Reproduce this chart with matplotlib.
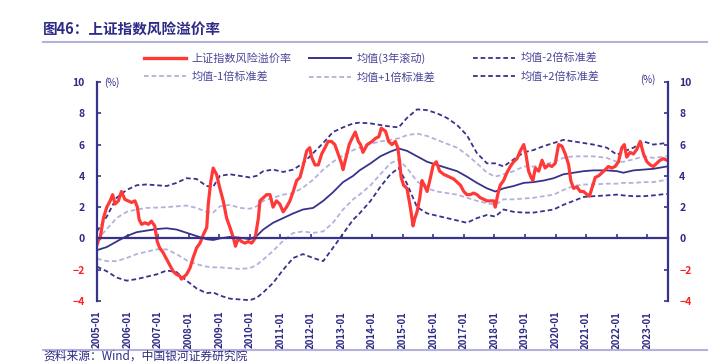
import matplotlib
matplotlib.use("Agg")
import matplotlib.pyplot as plt
from matplotlib.lines import Line2D

plt.rcParams['font.family'] = ['Noto Sans CJK SC', 'DejaVu Sans']

# === 数据（从图中读取，时间用小数年表示）===
red_dates = [2005.00, 2005.05, 2005.10, 2005.21, 2005.32, 2005.43, 2005.51, 2005.59, 2005.70, 2005.80,
             2005.91, 2006.02, 2006.13, 2006.24, 2006.32, 2006.38, 2006.46, 2006.57, 2006.68, 2006.78,
             2006.89, 2006.97, 2007.05, 2007.16, 2007.27, 2007.38, 2007.49, 2007.60, 2007.71, 2007.76,
             2007.82, 2007.93, 2008.04, 2008.15, 2008.26, 2008.37, 2008.48, 2008.59, 2008.64, 2008.72,
             2008.80, 2008.91, 2009.02, 2009.13, 2009.24, 2009.35, 2009.46, 2009.53, 2009.62, 2009.73,
             2009.84, 2009.95, 2010.06, 2010.17, 2010.28, 2010.33, 2010.44, 2010.55, 2010.66, 2010.76,
             2010.87, 2010.98, 2011.09, 2011.20, 2011.31, 2011.42, 2011.53, 2011.64, 2011.75, 2011.86,
             2011.96, 2012.02, 2012.13, 2012.24, 2012.35, 2012.46, 2012.56, 2012.67, 2012.78, 2012.89,
             2013.00, 2013.05, 2013.15, 2013.25, 2013.37, 2013.45, 2013.55, 2013.62, 2013.70, 2013.84,
             2014.00, 2014.11, 2014.22, 2014.30, 2014.44, 2014.54, 2014.65, 2014.76, 2014.84, 2014.90,
             2014.95, 2015.03, 2015.14, 2015.25, 2015.34, 2015.40, 2015.47, 2015.56, 2015.63, 2015.71,
             2015.80, 2015.91, 2016.00, 2016.10, 2016.21, 2016.34, 2016.45, 2016.56, 2016.67, 2016.78,
             2016.89, 2017.00, 2017.10, 2017.21, 2017.32, 2017.43, 2017.54, 2017.65, 2017.76, 2017.87,
             2017.98, 2018.03, 2018.11, 2018.19, 2018.30, 2018.41, 2018.52, 2018.63, 2018.74, 2018.85,
             2018.96, 2019.03, 2019.12, 2019.20, 2019.26, 2019.34, 2019.45, 2019.56, 2019.66, 2019.77,
             2019.88, 2019.99, 2020.10, 2020.21, 2020.32, 2020.43, 2020.50, 2020.59, 2020.70, 2020.81,
             2020.92, 2021.03, 2021.11, 2021.19, 2021.30, 2021.41, 2021.52, 2021.63, 2021.73, 2021.84,
             2021.95, 2022.06, 2022.17, 2022.25, 2022.33, 2022.44, 2022.55, 2022.66, 2022.77, 2022.88,
             2022.99, 2023.10, 2023.20, 2023.31, 2023.42, 2023.53, 2023.64]
red_values = [-0.4, -0.1, 0.0, 1.3, 2.0, 2.4, 2.8, 2.2, 2.4, 3.0,
              2.5, 2.4, 2.3, 2.4, 2.0, 1.2, 0.9, 1.0, 0.9, 1.1,
              0.8, -0.2, -0.6, -0.9, -1.3, -1.7, -2.1, -2.3, -2.4, -2.6,
              -2.5, -2.3, -1.9, -1.2, -0.6, -0.3, 0.25, 0.7, 2.2, 3.6,
              4.5, 4.1, 3.2, 2.4, 1.3, 0.7, 0.05, -0.5, 0.0, -0.2,
              -0.3, -0.2, -0.3, 0.0, 1.3, 2.4, 2.6, 2.8, 2.8, 2.0,
              2.4, 2.2, 1.7, 2.0, 2.4, 3.0, 3.7, 3.9, 4.7, 5.6,
              5.8, 5.2, 4.7, 4.7, 5.4, 5.8, 6.2, 6.2, 6.0, 5.4,
              4.8, 4.4, 5.2, 6.0, 6.5, 6.8, 6.2, 6.0, 5.5, 6.0,
              6.2, 6.4, 6.5, 7.05, 6.85, 6.2, 6.0, 6.2, 5.8, 4.9,
              3.9, 3.4, 3.2, 2.0, 0.8, 1.3, 1.7, 2.6, 3.7, 3.4,
              3.0, 3.9, 4.7, 4.9, 4.3, 4.1, 4.0, 3.9, 3.8, 3.6,
              3.4, 3.0, 2.8, 2.8, 2.9, 2.8, 2.6, 2.5, 2.4, 2.4,
              2.4, 2.0, 2.8, 3.4, 3.7, 4.2, 4.6, 4.9, 5.1, 5.6,
              6.0, 5.4, 4.3, 3.9, 3.7, 4.5, 4.3, 5.0, 4.5, 4.7,
              4.6, 4.8, 6.0, 5.9, 5.4, 4.7, 3.7, 3.2, 3.3, 3.0,
              3.0, 2.8, 2.7, 3.2, 3.9, 4.0, 4.2, 4.4, 4.6, 4.5,
              4.6, 4.9, 5.8, 6.0, 5.2, 5.5, 5.4, 5.7, 6.2, 5.4,
              4.9, 4.7, 4.6, 4.8, 5.0, 5.1, 5.0]

band_dates = [2005.00, 2005.32, 2005.64, 2005.97, 2006.30, 2006.62, 2006.95, 2007.28, 2007.60, 2007.93,
              2008.26, 2008.58, 2008.80, 2009.02, 2009.35, 2009.67, 2010.00, 2010.22, 2010.44, 2010.76,
              2011.09, 2011.42, 2011.74, 2012.07, 2012.40, 2012.72, 2013.05, 2013.38, 2013.59, 2013.95,
              2014.27, 2014.60, 2014.87, 2015.14, 2015.47, 2015.80, 2016.12, 2016.45, 2016.78, 2017.10,
              2017.43, 2017.76, 2018.03, 2018.30, 2018.63, 2018.96, 2019.28, 2019.61, 2019.94, 2020.26,
              2020.59, 2020.92, 2021.24, 2021.68, 2022.01, 2022.22, 2022.55, 2022.88, 2023.20, 2023.64]
mean_3y = [-0.75, -0.55, -0.2, 0.15, 0.4, 0.5, 0.6, 0.65, 0.57, 0.36,
           0.15, -0.05, -0.1, 0.0, 0.1, 0.05, -0.05, 0.15, 0.57, 1.0,
           1.3, 1.6, 1.85, 1.95, 2.4, 2.95, 3.6, 4.0, 4.35, 4.8,
           5.25, 5.55, 5.75, 5.6, 5.25, 4.9, 4.7, 4.5, 4.3, 3.95,
           3.55, 3.2, 3.0, 3.2, 3.35, 3.55, 3.6, 3.7, 3.85, 4.1,
           4.2, 4.3, 4.35, 4.35, 4.3, 4.2, 4.35, 4.4, 4.45, 4.6]
plus_2sd = [0.45, 1.4, 2.6, 3.1, 3.4, 3.45, 3.4, 3.35, 3.55, 3.85,
            3.8, 3.35, 3.3, 4.0, 4.1, 4.0, 3.9, 4.0, 4.3, 4.4,
            4.25, 4.4, 4.8, 5.45, 6.1, 6.8, 7.1, 7.35, 7.4, 7.35,
            7.25, 7.15, 7.1, 7.7, 8.25, 8.2, 8.0, 7.7, 7.25, 6.6,
            5.45, 4.8, 4.8, 4.6, 5.05, 5.5, 5.65, 5.9, 6.1, 6.3,
            6.2, 6.1, 6.0, 5.8, 5.35, 5.55, 5.8, 6.2, 6.0, 6.1]
plus_1sd = [-0.1, 0.6, 1.3, 1.7, 1.85, 1.95, 1.97, 2.0, 2.05, 2.1,
            1.95, 1.7, 1.65, 2.05, 2.15, 1.95, 1.9, 2.05, 2.4, 2.6,
            2.8, 2.9, 3.25, 3.75, 4.4, 4.9, 5.3, 5.65, 5.8, 6.05,
            6.2, 6.3, 6.4, 6.6, 6.7, 6.55, 6.3, 6.05, 5.8, 5.35,
            4.8, 4.2, 3.95, 4.1, 4.3, 4.6, 4.6, 4.7, 4.9, 5.15,
            5.25, 5.25, 5.25, 5.15, 4.9, 4.9, 5.05, 5.25, 5.15, 5.25]
minus_1sd = [-1.3, -1.45, -1.45, -1.25, -1.0, -0.85, -0.7, -0.7, -1.0, -1.4,
             -1.65, -1.8, -1.85, -1.85, -1.9, -1.95, -1.9, -1.7, -1.35, -0.8,
             -0.15, 0.35, 0.45, 0.35, 0.45, 1.0, 1.85, 2.5, 2.8, 3.4,
             4.1, 4.8, 5.05, 4.5, 3.65, 3.2, 3.0, 2.9, 2.8, 2.6,
             2.4, 2.25, 2.15, 2.5, 2.5, 2.55, 2.6, 2.7, 2.8, 3.1,
             3.35, 3.45, 3.45, 3.5, 3.5, 3.55, 3.55, 3.6, 3.6, 3.75]
minus_2sd = [-1.8, -2.1, -2.5, -2.7, -2.6, -2.45, -2.3, -2.05, -2.15, -2.7,
             -3.2, -3.5, -3.45, -3.65, -3.85, -3.9, -3.95, -3.8, -3.45, -2.85,
             -2.0, -1.25, -1.0, -1.25, -1.45, -0.6, 0.3, 1.2, 1.6, 2.4,
             3.3, 4.1, 4.5, 3.5, 2.0, 1.6, 1.45, 1.3, 1.15, 1.0,
             1.3, 1.5, 1.4, 1.85, 1.7, 1.65, 1.65, 1.75, 1.85, 2.15,
             2.4, 2.65, 2.7, 2.75, 2.8, 2.75, 2.7, 2.7, 2.75, 2.85]

tick_years = list(range(2005, 2024))
tick_labels = [f"{y}-01" for y in tick_years]
y_ticks = [-4, -2, 0, 2, 4, 6, 8, 10]

# === 颜色 ===
navy = '#37338c'
light = '#b4b1da'
red = '#ff3838'
text_navy = '#2e2b86'
dash = (0, (2.6, 1.6))

fig = plt.figure(figsize=(7.25, 3.64), dpi=100)
W, H = 725, 364
ax = fig.add_axes([97 / W, 1 - 301 / H, (668 - 97) / W, (301 - 82) / H])

ax.plot(band_dates, plus_2sd, color=navy, lw=1.3, ls=dash)
ax.plot(band_dates, minus_2sd, color=navy, lw=1.3, ls=dash)
ax.plot(band_dates, plus_1sd, color=light, lw=1.3, ls=dash)
ax.plot(band_dates, minus_1sd, color=light, lw=1.3, ls=dash)
ax.plot(band_dates, mean_3y, color=navy, lw=1.3)
ax.plot(red_dates, red_values, color=red, lw=2.3, solid_joinstyle='round')

ax.set_xlim(2005.0, 2023.68)
ax.set_ylim(-4, 10)

# 左轴
ax.set_yticks(y_ticks)
ax.tick_params(axis='y', direction='in', length=3, width=1.2, color=navy, pad=9)
for lab, v in zip(ax.get_yticklabels(), y_ticks):
    lab.set_fontweight('bold')
    lab.set_fontsize(7.5)
    lab.set_color('#ff2020' if v < 0 else text_navy)

# 零轴（刻度朝上），标签放到底部
ax.spines['bottom'].set_position(('data', 0))
ax.set_xticks(tick_years)
ax.tick_params(axis='x', direction='in', length=3, width=1.2, color=navy, labelbottom=False)
for s in ['top', 'right']:
    ax.spines[s].set_visible(False)
for s in ['left', 'bottom']:
    ax.spines[s].set_color(navy)
    ax.spines[s].set_linewidth(1.6)

sec = ax.secondary_xaxis('bottom')
sec.set_xticks(tick_years)
sec.set_xticklabels(tick_labels, rotation=90, fontsize=7, fontweight='bold', color=text_navy)
sec.tick_params(axis='x', length=0, pad=7)
sec.spines['bottom'].set_visible(False)

# 右轴
ax2 = ax.twinx()
ax2.set_ylim(-4, 10)
ax2.set_yticks(y_ticks)
ax2.tick_params(axis='y', direction='in', length=3, width=1.2, color=navy, pad=8)
for lab, v in zip(ax2.get_yticklabels(), y_ticks):
    lab.set_fontweight('bold')
    lab.set_fontsize(7.5)
    lab.set_color('#ff2020' if v < 0 else text_navy)
for s in ['top', 'left', 'bottom']:
    ax2.spines[s].set_visible(False)
ax2.spines['right'].set_color(navy)
ax2.spines['right'].set_linewidth(1.6)

fig.text(112 / W, 1 - 83 / H, '(%)', fontsize=7, color=text_navy, ha='center', va='center')
fig.text(648 / W, 1 - 80 / H, '(%)', fontsize=7, color=text_navy, ha='center', va='center')

# 图例（三列，各两行）
cols = [
    ([Line2D([], [], color=red, lw=2.4), Line2D([], [], color=light, lw=1.3, ls=dash)],
     ['上证指数风险溢价率', '均值-1倍标准差'], 144),
    ([Line2D([], [], color=navy, lw=1.4), Line2D([], [], color=light, lw=1.3, ls=dash)],
     ['均值(3年滚动)', '均值+1倍标准差'], 309),
    ([Line2D([], [], color=navy, lw=1.3, ls=dash), Line2D([], [], color=navy, lw=1.3, ls=dash)],
     ['均值-2倍标准差', '均值+2倍标准差'], 473),
]
for handles, labels, x0 in cols:
    leg = fig.legend(handles, labels, loc='upper left', bbox_to_anchor=(x0 / W, 1 - 53 / H),
                     frameon=False, fontsize=8, handlelength=3.8, handletextpad=0.5,
                     labelspacing=0.75, borderpad=0, borderaxespad=0)
    for t in leg.get_texts():
        t.set_color('#4a4699')

# 标题和来源
fig.text(43 / W, 1 - 30 / H, '图46：上证指数风险溢价率', fontsize=10.5, fontweight='bold',
         color=text_navy, ha='left', va='center')
fig.add_artist(Line2D([43 / W, 707 / W], [1 - 42 / H, 1 - 42 / H], color=light, lw=1.5))
fig.add_artist(Line2D([43 / W, 707 / W], [1 - 350 / H, 1 - 350 / H], color=light, lw=1.5))
fig.text(43 / W, 1 - 363 / H, '资料来源：Wind，中国银河证券研究院', fontsize=8.5, style='italic',
         color=text_navy, ha='left', va='bottom')

fig.savefig('out.png', dpi=100)
